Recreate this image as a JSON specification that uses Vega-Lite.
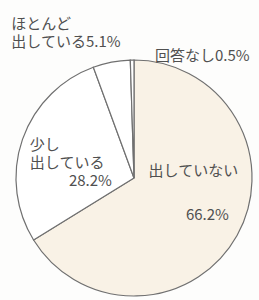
{
  "$schema": "https://vega.github.io/schema/vega-lite/v6.json",
  "autosize": {"type": "none"},
  "width": 236,
  "height": 236,
  "padding": {"top": 60, "bottom": 4, "left": 16, "right": 7},
  "background": "#fdfdfc",
  "config": {"view": {"stroke": null}, "text": {"font": "Noto Sans CJK JP", "fontSize": 15, "color": "#505050"}},
  "data": {"values": [
    {"i": 1, "category": "出していない", "value": 66.2, "name": "出していない", "pct": "66.2%"},
    {"i": 2, "category": "少し出している", "value": 28.2, "name": "少し\n出している", "pct": "28.2%"},
    {"i": 3, "category": "ほとんど出している", "value": 5.1, "name": "ほとんど\n出している5.1%", "pct": "5.1%"},
    {"i": 4, "category": "回答なし", "value": 0.5, "name": "回答なし0.5%", "pct": "0.5%"}
  ]},
  "encoding": {
    "theta": {"field": "value", "type": "quantitative", "stack": true},
    "order": {"field": "i", "type": "quantitative"}
  },
  "layer": [
    {
      "mark": {"type": "arc", "stroke": "#707070", "strokeWidth": 1.2},
      "encoding": {
        "fill": {"field": "category", "type": "nominal", "legend": null,
          "scale": {"domain": ["出していない", "少し出している", "ほとんど出している", "回答なし"],
                    "range": ["#f9f2e6", "#ffffff", "#ffffff", "#ffffff"]}}
      }
    },
    {
      "mark": {"type": "text", "radius": 60, "dx": 7, "dy": -36, "align": "center", "baseline": "middle"},
      "encoding": {"text": {"condition": {"test": "datum.i === 1", "field": "name"}, "value": ""}}
    },
    {
      "mark": {"type": "text", "radius": 60, "dx": 21, "dy": 8, "align": "center", "baseline": "middle"},
      "encoding": {"text": {"condition": {"test": "datum.i === 1", "field": "pct"}, "value": ""}}
    },
    {
      "mark": {"type": "text", "radius": 70, "dx": -38, "dy": -10, "align": "left", "baseline": "middle", "lineBreak": "\n", "lineHeight": 18},
      "encoding": {"text": {"condition": {"test": "datum.i === 2", "field": "name"}, "value": ""}}
    },
    {
      "mark": {"type": "text", "radius": 70, "dx": 44, "dy": 26, "align": "right", "baseline": "middle"},
      "encoding": {"text": {"condition": {"test": "datum.i === 2", "field": "pct"}, "value": ""}}
    },
    {
      "mark": {"type": "text", "radius": 140, "dx": -96, "dy": -17, "align": "left", "baseline": "middle", "lineBreak": "\n", "lineHeight": 18},
      "encoding": {"text": {"condition": {"test": "datum.i === 3", "field": "name"}, "value": ""}}
    },
    {
      "mark": {"type": "text", "radius": 125, "dx": 23, "dy": 3, "align": "left", "baseline": "middle"},
      "encoding": {"text": {"condition": {"test": "datum.i === 4", "field": "name"}, "value": ""}}
    }
  ]
}
